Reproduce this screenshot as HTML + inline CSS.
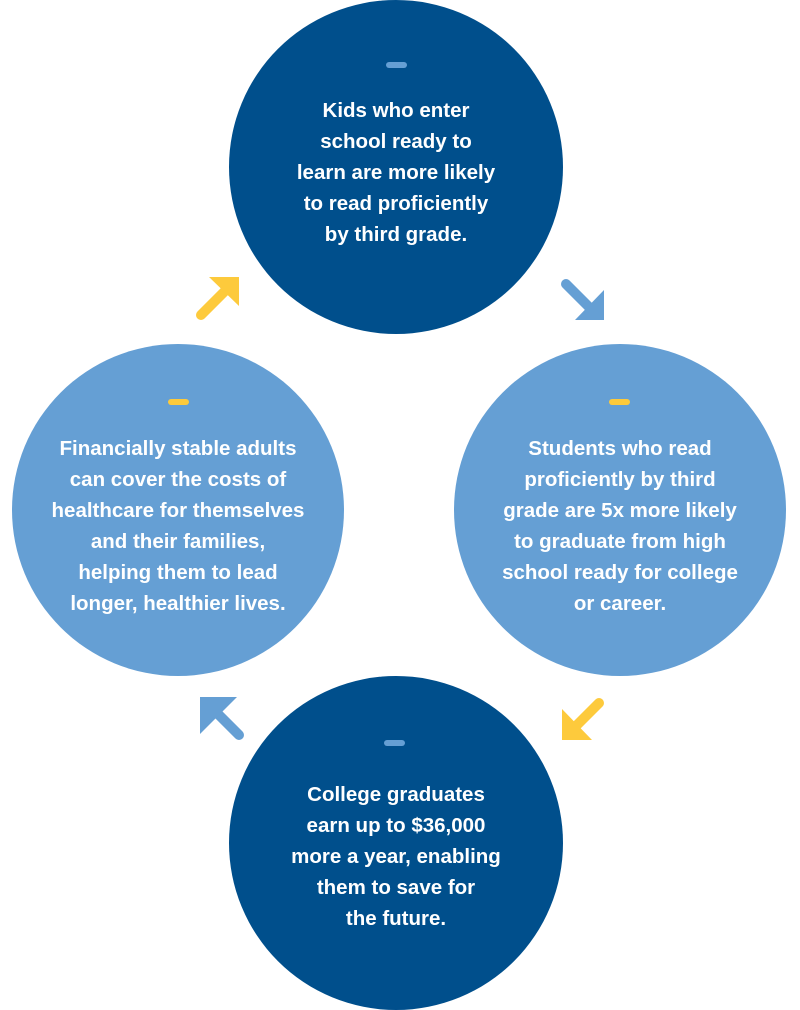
<!DOCTYPE html>
<html><head><meta charset="utf-8"><style>
html,body{margin:0;padding:0;background:#fff;}
svg{display:block}
text{font-family:"Liberation Sans",sans-serif;font-weight:bold;font-size:20.5px;fill:#fff;text-anchor:middle}
</style></head><body>
<svg width="800" height="1010" viewBox="0 0 800 1010" xmlns="http://www.w3.org/2000/svg">
<circle cx="396" cy="167" r="167" fill="#004f8c"/>
<circle cx="178" cy="510" r="166" fill="#659fd4"/>
<circle cx="620" cy="510" r="166" fill="#659fd4"/>
<circle cx="396" cy="843" r="167" fill="#004f8c"/>

<rect x="386" y="62" width="21" height="6" rx="3" fill="#659fd4"/>
<rect x="168" y="399" width="21" height="6" rx="3" fill="#fdca3c"/>
<rect x="609" y="399" width="21" height="6" rx="3" fill="#fdca3c"/>
<rect x="384" y="740" width="21" height="6" rx="3" fill="#659fd4"/>

<g>
<text x="396" y="117">Kids who enter</text>
<text x="396" y="148">school ready to</text>
<text x="396" y="179">learn are more likely</text>
<text x="396" y="210">to read proficiently</text>
<text x="396" y="241">by third grade.</text>
</g>
<g>
<text x="178" y="455">Financially stable adults</text>
<text x="178" y="486">can cover the costs of</text>
<text x="178" y="517">healthcare for themselves</text>
<text x="178" y="548">and their families,</text>
<text x="178" y="579">helping them to lead</text>
<text x="178" y="610">longer, healthier lives.</text>
</g>
<g>
<text x="620" y="455">Students who read</text>
<text x="620" y="486">proficiently by third</text>
<text x="620" y="517">grade are 5x more likely</text>
<text x="620" y="548">to graduate from high</text>
<text x="620" y="579">school ready for college</text>
<text x="620" y="610">or career.</text>
</g>
<g>
<text x="396" y="801">College graduates</text>
<text x="396" y="832">earn up to $36,000</text>
<text x="396" y="863">more a year, enabling</text>
<text x="396" y="894">them to save for</text>
<text x="396" y="925">the future.</text>
</g>

<line x1="566" y1="284" x2="592" y2="310" stroke="#659fd4" stroke-width="10" stroke-linecap="round"/>
<polygon points="604,290 604,320 575,320" fill="#659fd4"/>

<line x1="201" y1="315" x2="228" y2="288" stroke="#fdca3c" stroke-width="10" stroke-linecap="round"/>
<polygon points="209,277 239,277 239,306" fill="#fdca3c"/>

<line x1="599" y1="703" x2="573" y2="729" stroke="#fdca3c" stroke-width="10" stroke-linecap="round"/>
<polygon points="562,709 562,740 592,740" fill="#fdca3c"/>

<line x1="239" y1="735" x2="212" y2="708" stroke="#659fd4" stroke-width="10" stroke-linecap="round"/>
<polygon points="200,697 237,697 200,734" fill="#659fd4"/>
</svg>
</body></html>
